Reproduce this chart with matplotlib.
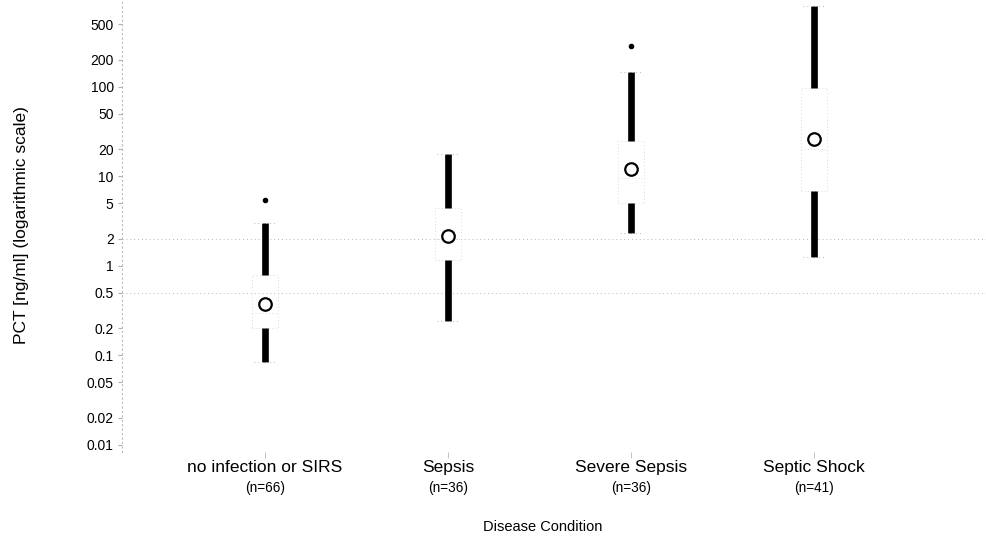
import numpy as np
import matplotlib
matplotlib.use("Agg")
from matplotlib import pyplot as plt

plt.rcParams['font.family'] = ['Liberation Sans', 'DejaVu Sans']

#values (ng/ml)
categories = ["no infection or SIRS", "Sepsis", "Severe Sepsis", "Septic Shock"]
n_counts = [66, 36, 36, 41]
whisker_low = [0.085, 0.24, 2.33, 1.26]
q1 = [0.20, 1.15, 5.05, 6.9]
medians = [0.30, 2.0, 9.6, 20.0]
q3 = [0.79, 4.4, 24.9, 97.0]
whisker_high = [3.0, 17.8, 148.0, 800.0]
means = [0.37, 2.16, 12.1, 26.0]
outliers = [[5.4], [], [283.0], []]
cutoffs = [0.5, 2.0]
ytick_values = [500, 200, 100, 50, 20, 10, 5, 2, 1, 0.5, 0.2, 0.1, 0.05, 0.02, 0.01]
ytick_labels = ["500", "200", "100", "50", "20", "10", "5", "2", "1", "0.5", "0.2", "0.1", "0.05", "0.02", "0.01"]

#building stats for bxp
stats = []
for i in range(len(categories)):
    stats.append({"label": categories[i], "whislo": whisker_low[i], "q1": q1[i], "med": medians[i],
                  "q3": q3[i], "whishi": whisker_high[i], "mean": means[i], "fliers": outliers[i]})

fig = plt.figure(figsize=(9.86, 5.38), dpi=100)
ax = fig.add_axes([122 / 986, 1 - 452 / 538, 1 - 122 / 986, 452 / 538])

faint = dict(color="#b8b8b8", linestyle=(0, (1, 3)), linewidth=0.7)
box_faint = dict(color="#cfcfcf", linestyle=(0, (1, 3)), linewidth=0.6)

#cutoff lines
for c in cutoffs:
    ax.axhline(c, **faint, zorder=0)

positions = np.arange(1, len(categories) + 1)
ax.bxp(stats, positions=positions, widths=0.14, showmeans=True,
       boxprops=box_faint, medianprops=box_faint, capprops=faint, capwidths=0.12,
       whiskerprops=dict(color="black", linewidth=4.8, solid_capstyle="butt"),
       meanprops=dict(marker="o", markersize=9, markerfacecolor="white",
                      markeredgecolor="black", markeredgewidth=1.6),
       flierprops=dict(marker="o", markersize=3, markerfacecolor="black",
                       markeredgecolor="black"))

ax.set_yscale("log")
ax.set_ylim(0.0083, 936)
ax.set_xlim(0.219, 4.94)
ax.set_yticks(ytick_values)
ax.set_yticklabels(ytick_labels, fontsize=10)
ax.minorticks_off()
ax.set_xticks(positions)
ax.set_xticklabels(categories, fontsize=12.5)
ax.tick_params(axis="y", length=3, color="#b0b0b0", width=0.8, pad=3)
ax.tick_params(axis="x", length=4, color="#b8b8b8", width=0.6, pad=2)

for s in ["top", "right", "bottom"]:
    ax.spines[s].set_visible(False)
ax.spines["left"].set_color("#b8b8b8")
ax.spines["left"].set_linestyle((0, (1, 3)))
ax.spines["left"].set_linewidth(0.8)

#sample sizes under the labels
for i in range(len(categories)):
    ax.text(positions[i], -(488 - 452) / 452, "(n=%d)" % n_counts[i], transform=ax.get_xaxis_transform(),
            ha="center", va="center", fontsize=9.8)

ax.set_ylabel("PCT [ng/ml] (logarithmic scale)", fontsize=12.5)
ax.yaxis.set_label_coords((29 - 122) / 864, 1 - 225 / 452)
fig.text(0.55, 1 - 527 / 538, "Disease Condition", ha="center", va="center", fontsize=10.5)

plt.savefig("out.png", dpi=100)
plt.close("all")
